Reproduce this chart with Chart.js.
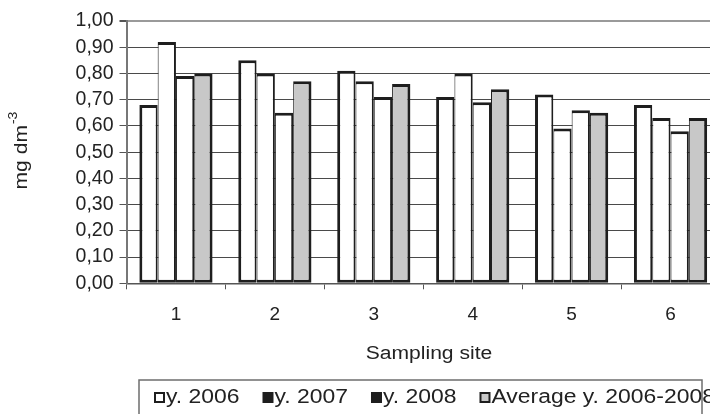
<!DOCTYPE html>
<html>
<head>
<meta charset="utf-8">
<script src="https://cdn.jsdelivr.net/npm/chart.js@4.4.1/dist/chart.umd.min.js"></script>
<style>
  html, body { margin: 0; padding: 0; background: #fff; }
  #wrap { width: 710px; height: 414px; overflow: hidden; position: relative; }
  canvas { display: block; }
</style>
</head>
<body>
<div id="wrap"><canvas id="c" width="724" height="414"></canvas></div>
<script>
// Sampling sites
const sites = ['1', '2', '3', '4', '5', '6'];
// Concentration, mg dm-3
const y2006 = [0.68, 0.85, 0.81, 0.71, 0.72, 0.68];
const y2007 = [0.92, 0.80, 0.77, 0.80, 0.59, 0.63];
const y2008 = [0.79, 0.65, 0.71, 0.69, 0.66, 0.58];
const avg0608 = [0.80, 0.77, 0.76, 0.74, 0.65, 0.63];
// Y axis ticks
const yTicks = [0, 0.1, 0.2, 0.3, 0.4, 0.5, 0.6, 0.7, 0.8, 0.9, 1.0];

const seriesNames = ['y. 2006', 'y. 2007', 'y. 2008', 'Average y. 2006-2008'];
const barFills = ['#ffffff', '#ffffff', '#ffffff', '#c8c8c8'];
const keyFills = ['#ffffff', '#1e1e1e', '#1e1e1e', '#c8c8c8'];

const FONT = '"Liberation Sans", Arial, sans-serif';
const INK = '#222222';
const STRETCH = 1.17; // wide lettering used for titles and legend

// text drawn with a horizontal stretch; returns the drawn width
function wideText(ctx, text, x, y, size, align) {
  ctx.font = size + 'px ' + FONT;
  const w = ctx.measureText(text).width * STRETCH;
  let left = x;
  if (align === 'center') left = x - w / 2;
  ctx.save();
  ctx.translate(left, y);
  ctx.scale(STRETCH, 1);
  ctx.textAlign = 'left';
  ctx.textBaseline = 'middle';
  ctx.fillText(text, 0, 0);
  ctx.restore();
  return w;
}

// Axis titles and the boxed legend underneath
const decorations = {
  id: 'decorations',
  afterDraw(chart) {
    const ctx = chart.ctx;
    ctx.save();
    ctx.fillStyle = INK;

    // y axis title with superscript
    ctx.save();
    ctx.translate(22, 151);
    ctx.rotate(-Math.PI / 2);
    ctx.font = '18px ' + FONT;
    const wBase = ctx.measureText('mg dm').width * STRETCH;
    ctx.font = '12px ' + FONT;
    const wSup = ctx.measureText('-3').width * STRETCH;
    const start = -(wBase + wSup) / 2;
    wideText(ctx, 'mg dm', start, 0, 18, 'left');
    wideText(ctx, '-3', start + wBase + 1, -8, 12, 'left');
    ctx.restore();

    // x axis title
    wideText(ctx, 'Sampling site', 429, 354, 18, 'center');

    // legend frame
    ctx.strokeStyle = '#6e6e6e';
    ctx.lineWidth = 1.5;
    ctx.strokeRect(139, 380, 563, 40);

    // legend entries
    let x = 155;
    const cy = 397.5;
    const box = 9;
    seriesNames.forEach((name, i) => {
      ctx.fillStyle = keyFills[i];
      ctx.fillRect(x, cy - box / 2, box, box);
      ctx.strokeStyle = '#1e1e1e';
      ctx.lineWidth = 2;
      ctx.strokeRect(x, cy - box / 2, box, box);
      ctx.fillStyle = INK;
      const w = wideText(ctx, name, x + box + 2, cy, 19.6, 'left');
      x += box + 2 + w + 24;
    });
    ctx.restore();
  }
};

// neighbouring bars share one dark edge; the outer edges of each group are full width
const last = 3;
const datasets = [y2006, y2007, y2008, avg0608].map((vals, i) => ({
  label: seriesNames[i],
  data: vals,
  backgroundColor: barFills[i],
  borderColor: '#1e1e1e',
  borderWidth: { top: 3, bottom: 3, left: i === 0 ? 3 : 1, right: i === last ? 3 : 2 },
  borderSkipped: false,
  barPercentage: 1,
  categoryPercentage: 0.74
}));

new Chart(document.getElementById('c'), {
  type: 'bar',
  data: { labels: sites, datasets },
  options: {
    responsive: false,
    animation: false,
    layout: { padding: { top: 21, right: 4, left: 0, bottom: 0 } },
    plugins: { legend: { display: false }, tooltip: { enabled: false } },
    scales: {
      x: {
        grid: {
          offset: true,
          drawOnChartArea: false,
          drawTicks: true,
          tickLength: 6,
          tickColor: '#555555'
        },
        border: { color: '#555555', width: 1.5 },
        ticks: { font: { size: 19, family: FONT }, color: INK, padding: 14 },
        afterFit(scale) { scale.height = 414 - 283.3; }
      },
      y: {
        min: 0,
        max: 1,
        afterBuildTicks(scale) { scale.ticks = yTicks.map(v => ({ value: v })); },
        ticks: {
          font: { size: 19.5, family: FONT },
          color: INK,
          padding: 6,
          autoSkip: false,
          callback: v => Number(v).toFixed(2).replace('.', ',')
        },
        grid: {
          color: ctx => (ctx.tick && ctx.tick.value === 1 ? '#9a9a9a' : '#4a4a4a'),
          lineWidth: ctx => (ctx.tick && ctx.tick.value === 1 ? 2 : 1),
          tickColor: '#555555',
          tickLength: 7
        },
        border: { color: '#777777', width: 2 },
        afterFit(scale) { scale.width = 126.5; }
      }
    }
  },
  plugins: [decorations]
});
</script>
</body>
</html>
